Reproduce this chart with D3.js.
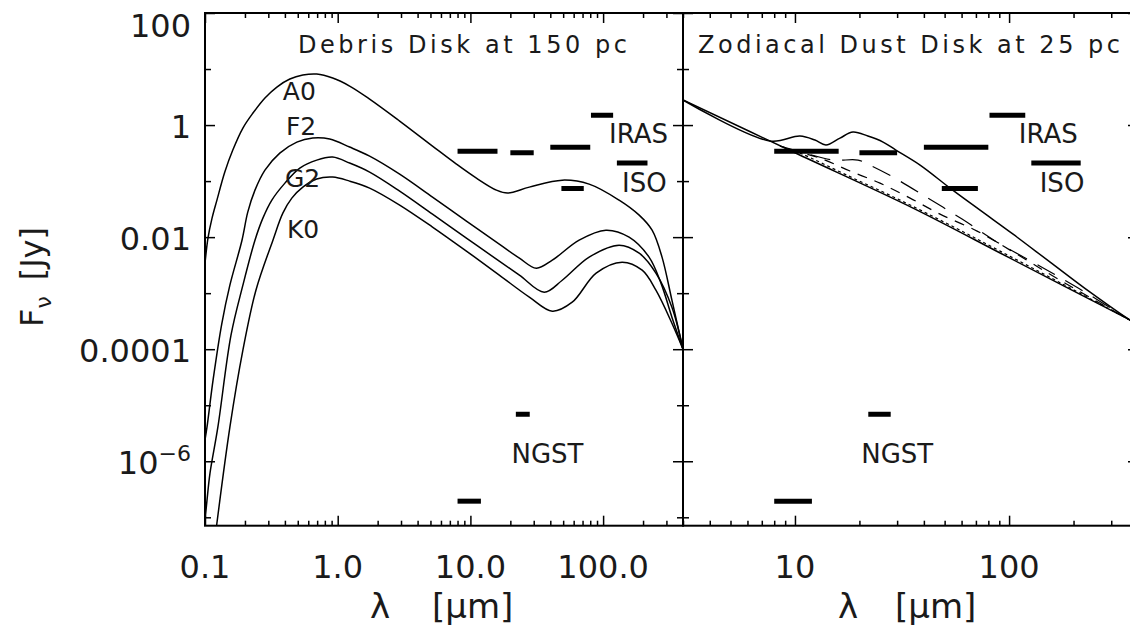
<!DOCTYPE html>
<html>
<head>
<meta charset="utf-8">
<script src="https://cdn.jsdelivr.net/npm/d3@7"></script>
<style>
body { margin: 0; background: #fff; }
text { font-family: "DejaVu Sans", sans-serif; fill: #1a1a1a; }
</style>
</head>
<body>
<div id="T"></div>
<script>
// ---- data: [wavelength in micron, flux in Jy] ----
const debrisA0 = [[0.1,3.4e-3],[0.1053,9.6e-3],[0.113,2.18e-2],[0.123,4.58e-2],[0.141,0.145],[0.162,0.358],[0.193,0.884],[0.23,1.64],[0.283,3.04],[0.348,4.77],[0.436,6.63],[0.546,7.81],[0.695,8.14],[0.917,6.9],[1.23,4.97],[1.74,2.91],[2.93,1.18],[5.18,0.422],[7.85,0.201],[11.1,0.113],[15.7,0.069],[19.0,0.0611],[27.8,0.078],[49.2,0.104],[78.5,0.0884],[132,0.0458],[187,0.0247],[234,0.0133],[278,0.0044],[330,7.5e-4],[400,1.0e-4]];
const debrisF2 = [[0.1,2.4e-6],[0.1035,4.05e-6],[0.115,2.8e-5],[0.134,2.9e-4],[0.154,1.39e-3],[0.19,8.8e-3],[0.21,0.0279],[0.238,0.069],[0.283,0.157],[0.366,0.316],[0.492,0.497],[0.649,0.586],[0.871,0.562],[1.23,0.405],[1.74,0.279],[2.93,0.133],[5.18,0.0518],[9.33,0.0193],[16.5,0.0075],[23.4,0.00422],[31.4,0.00279],[41.4,0.00388],[66,0.00884],[105,0.0133],[157,0.01],[222,0.0044],[273,0.00151],[330,3.73e-4],[400,1.0e-4]];
const debrisG2 = [[0.1,8.8e-8],[0.1035,2.0e-7],[0.109,6.1e-7],[0.125,4.05e-6],[0.157,1.78e-4],[0.193,1.39e-3],[0.238,8.8e-3],[0.273,0.0218],[0.319,0.0458],[0.4,0.092],[0.518,0.171],[0.695,0.237],[0.917,0.268],[1.23,0.21],[1.74,0.145],[2.93,0.0663],[5.18,0.0257],[9.33,0.0096],[16.5,0.00373],[23.4,0.0021],[36,0.00104],[49.2,0.0017],[78.5,0.0044],[132,0.0072],[187,0.00518],[250,0.00228],[330,5.6e-4],[400,1.0e-4]];
const debrisK0 = [[0.12,5e-8],[0.154,4.05e-6],[0.193,9.6e-5],[0.242,1.13e-3],[0.325,8.84e-3],[0.386,0.0268],[0.451,0.0497],[0.546,0.078],[0.695,0.109],[0.917,0.118],[1.23,0.1],[1.74,0.075],[2.93,0.0373],[5.18,0.0151],[9.33,0.00562],[16.5,0.0021],[27.8,8.5e-4],[41.4,4.77e-4],[58.5,6.9e-4],[88.6,0.00228],[139,0.00358],[197,0.00257],[250,0.00113],[330,2.91e-4],[400,1.0e-4]];
const starNames = ["A0", "F2", "G2", "K0"];
const starLabelPos = [[0.386,2.79],[0.407,0.663],[0.4,0.078],[0.414,0.0096]];

const zodiStar = [[3,2.8],[10,0.32],[35.6,0.033],[100,0.0043],[400,2.8e-4]];
const zodiTotal = [[3,2.8],[7.64,0.52],[10.55,0.637],[12.4,0.54],[13.96,0.44],[16.23,0.586],[18.66,0.75],[21.9,0.637],[25.8,0.497],[29.6,0.358],[38.4,0.193],[53,0.075],[73.2,0.0303],[104.4,0.0113],[155.5,0.00358],[239,0.00104],[367.6,3.3e-4],[400,2.8e-4]];
const zodiDash1 = [[8.51,0.422],[11.13,0.316],[15.05,0.237],[19.7,0.237],[22.9,0.185],[28.7,0.118],[41.8,0.0497],[60.3,0.021],[87.9,0.00814],[139.6,0.00303],[226.5,0.00104],[367.6,3.3e-4],[400,2.8e-4]];
const zodiDash2 = [[9.48,0.358],[13.09,0.257],[18.07,0.151],[24.96,0.092],[34.5,0.0497],[47.6,0.0257],[70.9,0.0128],[101.1,0.00586],[173.1,0.0017],[367.6,3.3e-4],[400,2.8e-4]];
const zodiDash3 = [[8.8,0.405],[10.55,0.316],[18.07,0.12],[30.95,0.0458],[53,0.0164],[90.8,0.00562],[173.1,0.00154],[367.6,3.3e-4],[400,2.8e-4]];

// sensitivity bars: [lambda min, lambda max, flux]
const irasBands = [[8,16,0.34],[20,30,0.32],[40,80,0.40],[81,119,1.5]];
const isoBands = [[127,216,0.21],[48.5,71.5,0.074]];
const ngstBands = [[22,28,6.9e-6],[8,12,1.94e-7]];
const instrNames = ["IRAS", "ISO", "NGST"];
const instrLabelPos = [[111,0.477],[139,0.0636],[20.4,9.2e-7]];

const yMajor = [100, 1, 0.01, 1e-4, 1e-6];
const yMinor = [10, 0.1, 1e-3, 1e-5, 1e-7];
const yLabels = ["100", "1", "0.01", "0.0001", "10"];
const xMajorLeft = [0.1, 1, 10, 100];
const xLabelsLeft = ["0.1", "1.0", "10.0", "100.0"];
const xMajorRight = [10, 100];
const xLabelsRight = ["10", "100"];

// ---- layout ----
const W = 1130, H = 628;
const yTop = 13, yBot = 525.7;
const svg = d3.select('#T').append('svg')
    .attr('width', W)
    .attr('height', H);

const y = d3.scaleLog().domain([Math.pow(10, -7.15), 100]).range([yBot, yTop]);
const xL = d3.scaleLog().domain([0.1, 400]).range([205, 683]);
const xR = d3.scaleLog().domain([3, 400]).range([683, 1138]);

function drawFrame(x, majors, id) {
    const [x0, x1] = x.range();
    const minors = x.ticks().filter(v => majors.indexOf(v) < 0 && v < x.domain()[1] * 0.999);
    const g = svg.append('g');
    const axes = [
        [d3.axisBottom(x), `translate(0,${yBot})`],
        [d3.axisTop(x), `translate(0,${yTop})`]
    ];
    axes.forEach(([ax, tr]) => {
        g.append('g').attr('transform', tr)
            .call(ax.tickValues(majors).tickSize(-10).tickFormat(''));
        g.append('g').attr('transform', tr)
            .call(ax.tickValues(minors).tickSize(-5).tickFormat(''));
    });
    const yaxes = [
        [d3.axisLeft(y), `translate(${x0},0)`],
        [d3.axisRight(y), `translate(${x1},0)`]
    ];
    yaxes.forEach(([ax, tr]) => {
        g.append('g').attr('transform', tr)
            .call(ax.tickValues(yMajor).tickSize(-10).tickFormat(''));
        g.append('g').attr('transform', tr)
            .call(ax.tickValues(yMinor).tickSize(-6).tickFormat(''));
    });
    g.selectAll('.domain').remove();
    g.selectAll('.tick line').attr('stroke', '#000').attr('stroke-width', 1.5);
    svg.append('rect')
        .attr('x', x0).attr('y', yTop)
        .attr('width', x1 - x0).attr('height', yBot - yTop)
        .attr('fill', 'none').attr('stroke', '#000').attr('stroke-width', 2);

    svg.append('clipPath').attr('id', id)
        .append('rect')
        .attr('x', x0).attr('y', yTop)
        .attr('width', x1 - x0).attr('height', yBot - yTop);
    return svg.append('g').attr('clip-path', `url(#${id})`);
}

function drawCurve(g, x, data, dash, w) {
    const line = d3.line()
        .x(d => x(d[0]))
        .y(d => y(d[1]))
        .curve(d3.curveCatmullRom.alpha(0.5));
    g.append('path')
        .attr('d', line(data))
        .attr('fill', 'none')
        .attr('stroke', '#000')
        .attr('stroke-width', w || 1.5)
        .attr('stroke-dasharray', dash || null);
}

function drawBars(g, x, bands) {
    g.selectAll(null).data(bands).enter().append('line')
        .attr('x1', d => x(d[0]))
        .attr('x2', d => x(d[1]))
        .attr('y1', d => y(d[2]))
        .attr('y2', d => y(d[2]))
        .attr('stroke', '#000')
        .attr('stroke-width', 5);
}

function drawInstrLabels(x) {
    svg.selectAll(null).data(instrNames).enter().append('text')
        .attr('x', (d, i) => x(instrLabelPos[i][0]))
        .attr('y', (d, i) => y(instrLabelPos[i][1]))
        .style('font-size', '26px')
        .text(d => d);
}

// ---- left panel ----
const gL = drawFrame(xL, xMajorLeft, 'clipL');
[debrisA0, debrisF2, debrisG2, debrisK0].forEach(s => drawCurve(gL, xL, s));
[irasBands, isoBands, ngstBands].forEach(b => drawBars(gL, xL, b));
drawInstrLabels(xL);
svg.selectAll(null).data(starNames).enter().append('text')
    .attr('x', (d, i) => xL(starLabelPos[i][0]))
    .attr('y', (d, i) => y(starLabelPos[i][1]))
    .style('font-size', '25px')
    .text(d => d);
svg.append('text')
    .attr('x', 298).attr('y', 53)
    .attr('textLength', 329).attr('lengthAdjust', 'spacing')
    .style('font-size', '24px')
    .text('Debris Disk at 150 pc');

// ---- right panel ----
const gR = drawFrame(xR, xMajorRight, 'clipR');
drawCurve(gR, xR, zodiStar, null, 1.5);
drawCurve(gR, xR, zodiTotal, null, 1.5);
drawCurve(gR, xR, zodiDash1, '20,12', 1.2);
drawCurve(gR, xR, zodiDash2, '10,8', 1.2);
drawCurve(gR, xR, zodiDash3, '3,3', 1.2);
[irasBands, isoBands, ngstBands].forEach(b => drawBars(gR, xR, b));
drawInstrLabels(xR);
svg.append('text')
    .attr('x', 698).attr('y', 53)
    .attr('textLength', 422).attr('lengthAdjust', 'spacing')
    .style('font-size', '24px')
    .text('Zodiacal Dust Disk at 25 pc');

// ---- tick labels ----
yLabels.forEach((lab, i) => {
    const t = svg.append('text')
        .attr('x', 191)
        .attr('y', Math.max(y(yMajor[i]) + 13, 37))
        .attr('text-anchor', 'end')
        .style('font-size', '32px')
        .text(lab);
    if (i === yLabels.length - 1) {
        t.append('tspan').attr('dy', -13).style('font-size', '22px').text('\u22126');
    }
});
xLabelsLeft.forEach((lab, i) => {
    svg.append('text')
        .attr('x', xL(xMajorLeft[i])).attr('y', 578)
        .attr('text-anchor', 'middle')
        .style('font-size', '32px')
        .text(lab);
});
xLabelsRight.forEach((lab, i) => {
    svg.append('text')
        .attr('x', xR(xMajorRight[i])).attr('y', 578)
        .attr('text-anchor', 'middle')
        .style('font-size', '32px')
        .text(lab);
});

// ---- axis titles ----
[[370, 432], [838, 895]].forEach(([a, b]) => {
    svg.append('text').attr('x', a).attr('y', 618).style('font-size', '34px').text('\u03bb');
    svg.append('text').attr('x', b).attr('y', 618).style('font-size', '34px').text('[\u03bcm]');
});
const yt = svg.append('text')
    .attr('transform', 'translate(43,327) rotate(-90)')
    .style('font-size', '32px');
yt.append('tspan').text('F');
yt.append('tspan').attr('dy', 8).style('font-size', '22px').text('\u03bd');
yt.append('tspan').attr('dy', -8).attr('dx', 16).text('[Jy]');
</script>
</body>
</html>
